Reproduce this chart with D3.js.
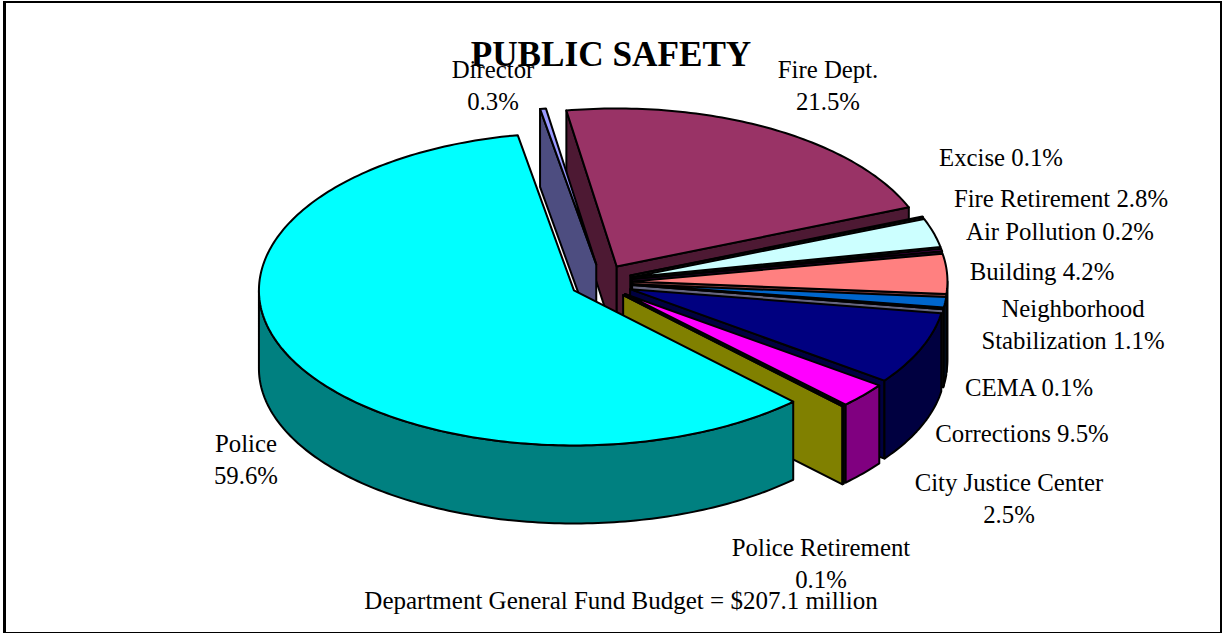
<!DOCTYPE html>
<html>
<head>
<meta charset="utf-8">
<style>
  html, body { margin: 0; padding: 0; background: #fff; }
  svg { display: block; }
  text { font-family: "Liberation Serif", serif; fill: #000; }
</style>
<script src="https://cdn.jsdelivr.net/npm/d3@7"></script>
</head>
<body>
<svg id="chart" width="1222" height="633"></svg>
<script>
// slice names in drawing order, clockwise from the top
const names = ['Fire Dept.', 'Excise', 'Fire Retirement', 'Air Pollution', 'Building',
  'Neighborhood Stabilization', 'CEMA', 'Corrections', 'City Justice Center',
  'Police Retirement', 'Police', 'Director'];
// slice sizes as they look in the picture (percent of the circle)
const shares = [21.45, 0.1, 2.95, 0.25, 4.1, 1.1, 0.1, 7.55, 2.6, 0.1, 59.4, 0.3];
const topColors = ['#993366', '#ffffcc', '#ccffff', '#660066', '#ff8080', '#0066cc',
  '#ccccff', '#000080', '#ff00ff', '#ffff00', '#00ffff', '#9999ff'];
const sideColors = ['#4d1933', '#808066', '#668080', '#330033', '#804040', '#003366',
  '#666680', '#000040', '#800080', '#808000', '#008080', '#4d4d80'];

const labelLines = [
  ['Director', '0.3%'], ['Fire Dept.', '21.5%'], ['Excise 0.1%'], ['Fire Retirement 2.8%'],
  ['Air Pollution 0.2%'], ['Building 4.2%'], ['Neighborhood', 'Stabilization 1.1%'],
  ['CEMA 0.1%'], ['Corrections 9.5%'], ['City Justice Center', '2.5%'],
  ['Police Retirement', '0.1%'], ['Police', '59.6%']
];
const titleText = 'PUBLIC SAFETY';
const footnoteText = 'Department General Fund Budget = $207.1 million';

// label anchors, same order as labelLines: x centre, first baseline
const labelAnchors = [[493, 78], [828, 78], [1001, 166], [1061, 207], [1060, 240], [1042, 280],
  [1073, 317], [1029, 396], [1022, 442], [1009, 491], [821, 556], [246, 452]];
const lineStep = 32;

const svg = d3.select('#chart');
const width = 1222, height = 633;

const centerX = 601.5, centerY = 282.3;
const radius = 315, depth = 78;
const explodeX = 31 / radius, explodeY = 0.115;
const startDeg = -9.2;

// unit circle -> screen, the back of the pie is drawn a bit deeper than the front
const x = d3.scaleLinear().domain([-1, 1]).range([centerX - radius, centerX + radius]);
const y = d3.scaleLinear().domain([-1, 0, 1]).range([centerY - 158, centerY, centerY + 155]);

const line = d3.line().x(d => x(d[0])).y(d => y(d[1]) + d[2]);

const pie = d3.pie().sort(null).value(d => d)
  .startAngle(startDeg * Math.PI / 180)
  .endAngle((startDeg + 360) * Math.PI / 180);
const arcs = pie(shares);

// angles between a0 and a1 at about one degree apart
function sweep(a0, a1) {
  const n = Math.max(1, Math.ceil((a1 - a0) / (Math.PI / 180)));
  return d3.range(n + 1).map(i => a0 + (a1 - a0) * i / n);
}

// back to front: the back slices first, police last
const paintOrder = [0, 11, 1, 2, 3, 4, 5, 6, 7, 8, 9, 10];

const slices = svg.append('g').attr('class', 'slices')
  .attr('stroke', '#000').attr('stroke-width', 2).attr('stroke-linejoin', 'round');

paintOrder.forEach(i => {
  const a = arcs[i];
  const mid = (a.startAngle + a.endAngle) / 2;
  const ox = Math.sin(mid) * explodeX, oy = -Math.cos(mid) * explodeY;
  const rim = (t, dz) => [ox + Math.sin(t), oy - Math.cos(t), dz];
  const hub = dz => [ox, oy, dz];
  const g = slices.append('g').attr('class', 'slice');

  // radial walls, only the ones that face the viewer
  [[a.startAngle, Math.sin(a.startAngle) < 0], [a.endAngle, Math.sin(a.endAngle) > 0]].forEach(([t, seen]) => {
    if (!seen) return;
    g.append('path').attr('fill', sideColors[i])
      .attr('d', line([hub(0), rim(t, 0), rim(t, depth), hub(depth)]) + 'Z');
  });

  // outer wall on the front half
  const from = Math.max(a.startAngle, Math.PI / 2), to = Math.min(a.endAngle, Math.PI * 1.5);
  if (to > from) {
    const ts = sweep(from, to);
    const pts = ts.map(t => rim(t, 0)).concat(ts.slice().reverse().map(t => rim(t, depth)));
    g.append('path').attr('fill', sideColors[i]).attr('d', line(pts) + 'Z');
  }

  // top face
  const topPts = [hub(0)].concat(sweep(a.startAngle, a.endAngle).map(t => rim(t, 0)));
  g.append('path').attr('fill', topColors[i]).attr('d', line(topPts) + 'Z');
});

// outer frame, the left side is heavier than the others
const frame = svg.append('g').attr('class', 'frame').attr('stroke', '#000');
frame.append('line').attr('x1', 3).attr('x2', 1222).attr('y1', 2).attr('y2', 2).attr('stroke-width', 2);
frame.append('line').attr('x1', 4.5).attr('x2', 4.5).attr('y1', 1).attr('y2', 633).attr('stroke-width', 3);
frame.append('line').attr('x1', 1221).attr('x2', 1221).attr('y1', 1).attr('y2', 633).attr('stroke-width', 2);
frame.append('line').attr('x1', 3).attr('x2', 1222).attr('y1', 632.5).attr('y2', 632.5).attr('stroke-width', 1);

const labels = svg.append('g').attr('class', 'labels')
  .attr('font-size', 24.8).attr('text-anchor', 'middle');
labelLines.forEach((lines, i) => {
  const t = labels.append('text').attr('transform', `translate(${labelAnchors[i][0]},${labelAnchors[i][1]})`);
  lines.forEach((s, j) => t.append('tspan').attr('x', 0).attr('y', j * lineStep).text(s));
});

svg.append('text').attr('x', 621).attr('y', 609).attr('text-anchor', 'middle')
  .attr('font-size', 25).text(footnoteText);

svg.append('text').attr('x', 611).attr('y', 66).attr('text-anchor', 'middle')
  .attr('font-size', 35.2).attr('font-weight', 'bold').text(titleText);
</script>
</body>
</html>
